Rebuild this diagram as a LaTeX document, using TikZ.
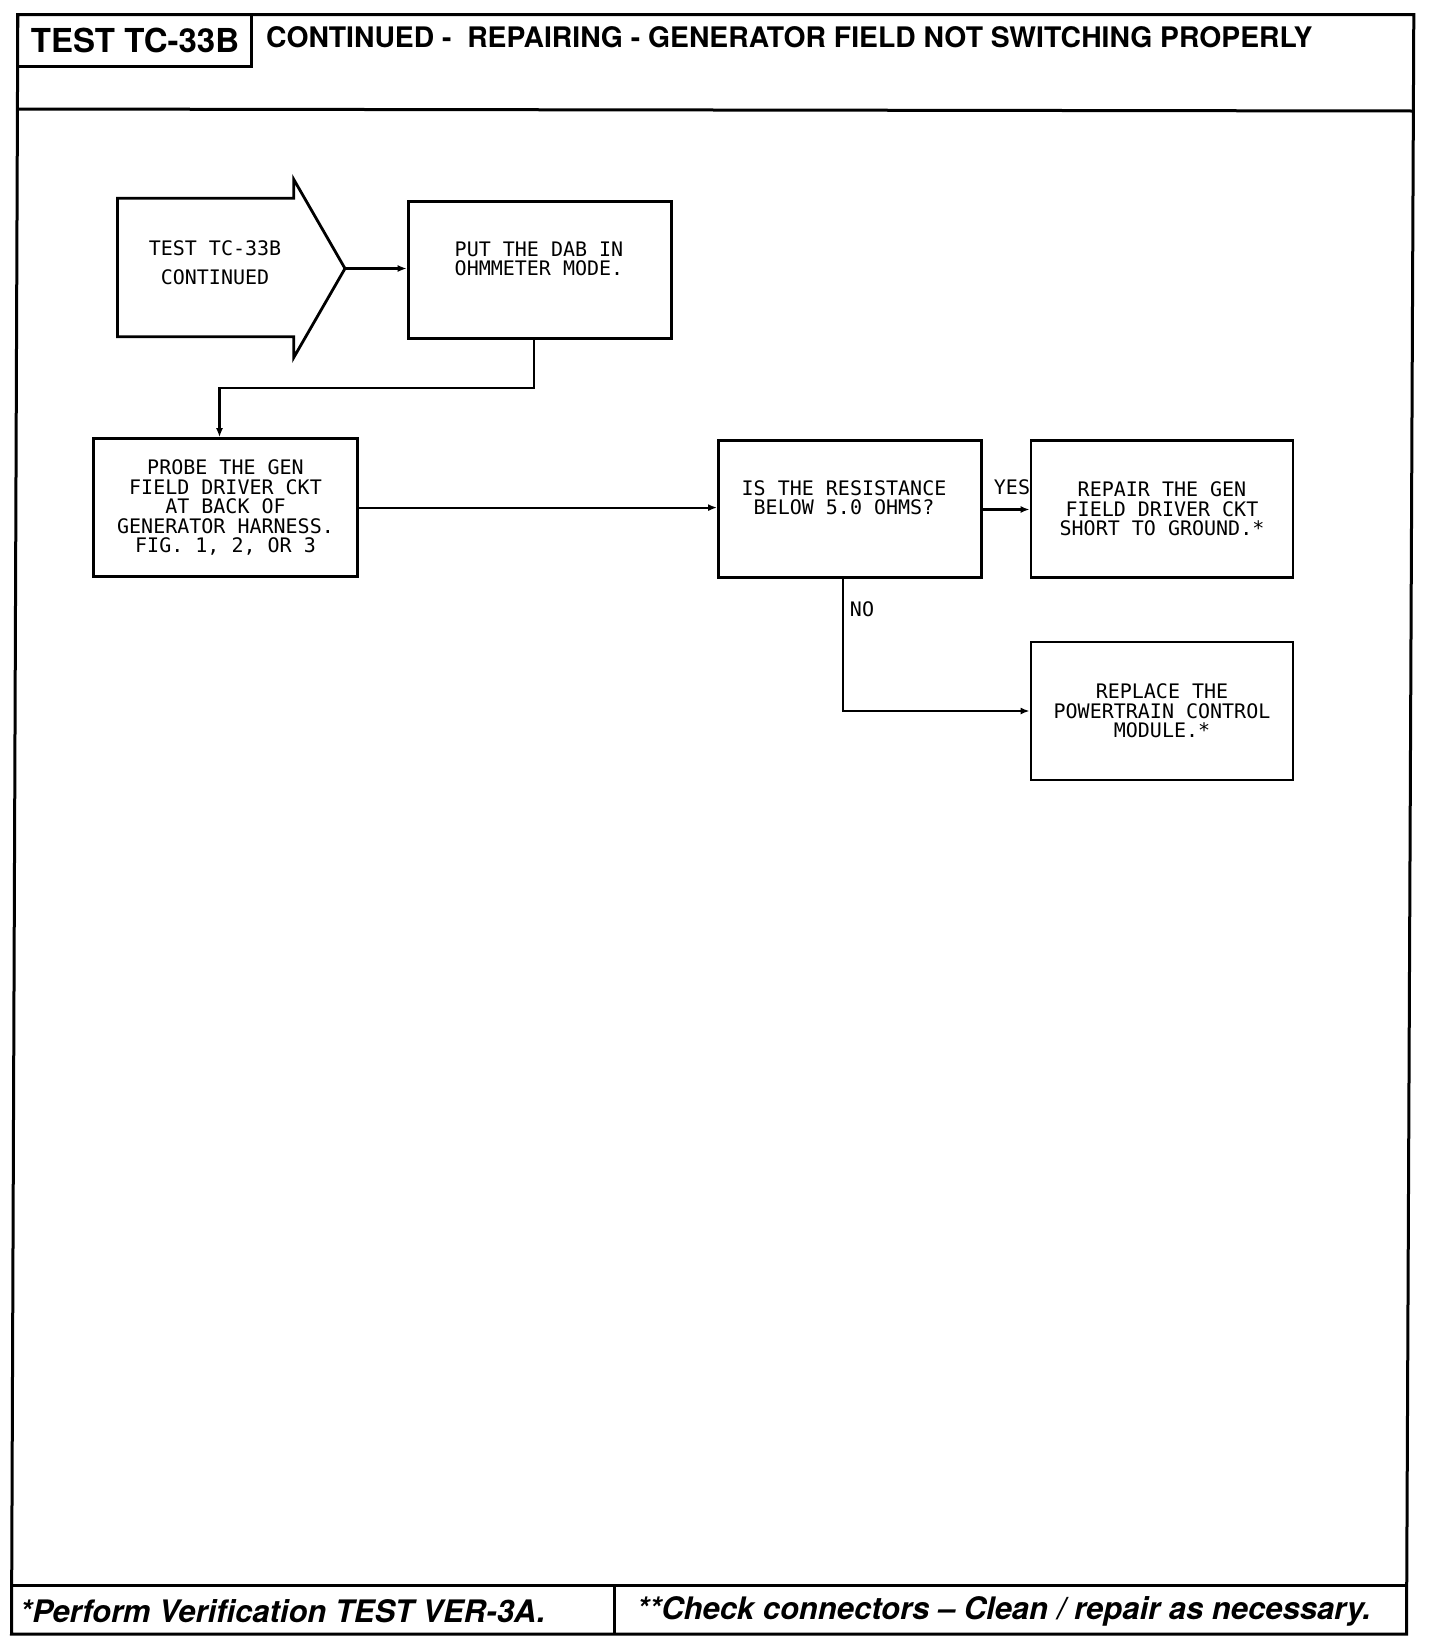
\documentclass[tikz,border=0pt]{standalone}
\usepackage{fontspec}
\setmainfont{TeX Gyre Heros}
\newfontfamily\boxfont{DejaVu Sans Mono}
\usetikzlibrary{arrows.meta}
\begin{document}
\begin{tikzpicture}[x=1pt,y=-1pt,
  frame/.style={line width=3pt, line join=miter},
  box/.style={draw, line width=2.8pt, inner sep=0pt, align=center,
    font=\boxfont\fontsize{20}{19.5}\selectfont},
  boxtext/.style={inner sep=0pt, align=center, font=\boxfont\fontsize{20}{19.5}\selectfont},
  conn/.style={line width=2.2pt, -{Latex[length=9pt,width=7pt]}},
  lbl/.style={inner sep=0pt, font=\boxfont\fontsize{20}{20}\selectfont},
]
\useasboundingbox (0,0) rectangle (1440,1644);
% outer frame
\draw[frame] (17.8,14.7) -- (1413.8,14.7) -- (1406.5,1634) -- (11.5,1634) -- cycle;
\draw[frame] (17.8,109) -- (1413,111);
\draw[frame] (17.8,14.7) rectangle (251.7,66);
\draw[frame] (11.7,1585.8) -- (1406.6,1585.8);
\draw[frame] (614.6,1585.8) -- (614.6,1634);
% titles
\node[anchor=center, inner sep=0pt, font=\bfseries\fontsize{33}{33}\selectfont] (title) at (135,40) {TEST TC-33B};
\node[anchor=west, inner sep=0pt, font=\bfseries\fontsize{28.3}{28}\selectfont] (head) at (266,37) {CONTINUED -~ REPAIRING - GENERATOR FIELD NOT SWITCHING PROPERLY};
\node[anchor=west, inner sep=0pt, font=\bfseries\itshape\fontsize{31}{31}\selectfont] (foot1) at (20,1611) {*Perform Verification TEST VER-3A.};
\node[anchor=west, inner sep=0pt, font=\bfseries\itshape\fontsize{31}{31}\selectfont] (foot2) at (637,1611) {**Check connectors -- Clean / repair as necessary.};
% start arrow
\draw[line width=2.8pt, line join=miter] (117.5,198.2) -- (293.7,198.2) -- (293.7,179.3) -- (345,268.5) coordinate (tip)
  -- (293.7,357.6) -- (293.7,336.7) -- (117.5,336.7) -- cycle;
\node[boxtext, font=\boxfont\fontsize{20}{29}\selectfont] (start) at (215,263) {TEST TC-33B\\CONTINUED};
% boxes
\node[box, minimum width=263pt, minimum height=137pt] (b2) at (539.6,270) {};
\node[boxtext] (t2) at (539,258.6) {PUT THE DAB IN\\OHMMETER MODE.};
\node[box, minimum width=264pt, minimum height=138pt] (b3) at (225.5,507.6) {PROBE THE GEN\\FIELD DRIVER CKT\\AT BACK OF\\GENERATOR HARNESS.\\FIG. 1, 2, OR 3};
\node[box, minimum width=263pt, minimum height=137pt] (b4) at (850,509) {};
\node[boxtext] (t4) at (844,497.6) {IS THE RESISTANCE\\BELOW 5.0 OHMS?};
\node[box, minimum width=262pt, minimum height=137pt] (b5) at (1162,509) {REPAIR THE GEN\\FIELD DRIVER CKT\\SHORT TO GROUND.*};
\node[box, minimum width=262pt, minimum height=138pt] (b6) at (1162,711) {REPLACE THE\\POWERTRAIN CONTROL\\MODULE.*};
% connectors
\draw[conn] (tip) -- (tip -| b2.west);
\draw[conn] ([xshift=-6pt]b2.south) |- ++(0,48) coordinate (k1) -| ([xshift=-6pt]b3.north);
\draw[conn] (b3.east) -- (b3.east -| b4.west);
\draw[conn] ([yshift=-0.5pt]b4.east) -- ([yshift=-0.5pt]b4.east -| b5.west);
\draw[conn] ([xshift=-7pt]b4.south) |- (b6.west);
\node[lbl] (yes) at (1012,487.7) {YES};
\node[lbl] (no) at (862,609) {NO};
\end{tikzpicture}
\end{document}
